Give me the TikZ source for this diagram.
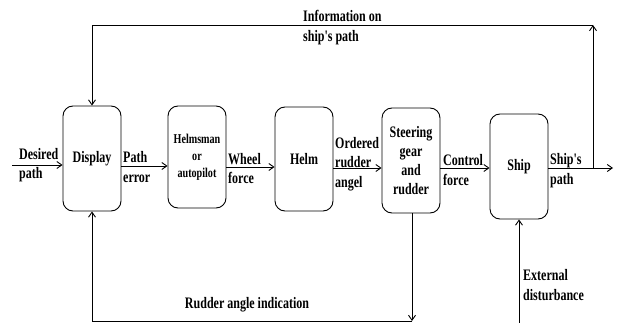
\documentclass[tikz,border=0pt]{standalone}
\usepackage{fontspec}
\setmainfont{Liberation Serif}[FakeStretch=0.75, Ligatures=TeXOff]
\usetikzlibrary{arrows.meta}
\begin{document}
\begin{tikzpicture}[x=1pt,y=-1pt,
  box/.style={draw, line width=0.9pt, rounded corners=10pt, minimum width=58pt, align=center, inner sep=0pt,
    font=\fontsize{16}{19}\selectfont\bfseries},
  lbl/.style={inner sep=0pt, align=left, anchor=west, font=\fontsize{16}{19.5}\selectfont\bfseries},
  arr/.style={line width=0.9pt, -{Straight Barb[length=5pt,width=7pt]}},
  ln/.style={line width=0.9pt}]
\useasboundingbox (0,0) rectangle (617,323);
% boxes
\node[box, minimum height=105pt] (disp) at (92,158.5) {Display};
\node[box, minimum height=102pt, font=\fontsize{13.5}{17}\selectfont\bfseries] (hm) at (197,157) {Helmsman\\or\\autopilot};
\node[box, minimum height=104pt] (helm) at (304,159) {Helm};
\node[box, minimum height=105pt] (steer) at (411,160.5) {Steering\\gear\\and\\rudder};
\node[box, minimum height=105pt] (ship) at (519,166.5) {Ship};
% coordinates
\coordinate (dstart) at (12,165);
\coordinate (pend) at (613,168);
\coordinate (jr) at (593,168);
\coordinate (tr) at (593,25);
\coordinate (tl) at (92,25);
\coordinate (bl) at (92,321);
\coordinate (br) at (412,321);
\coordinate (ext) at (519,323);
% main line
\draw[arr] (dstart) -- (dstart -| disp.west);
\draw[arr] (disp.east |- 0,166) -- (hm.west |- 0,166);
\draw[arr] (hm.east |- 0,167) -- (helm.west |- 0,167);
\draw[arr] (helm.east |- 0,168) -- (steer.west |- 0,168);
\draw[arr] (steer.east |- 0,168) -- (ship.west |- 0,168);
\draw[arr] (ship.east |- 0,168) -- (pend);
% top feedback
\draw[arr] (jr) -- (tr);
\draw[arr] (tr) -- (tl) -- (disp.north);
% bottom feedback
\draw[arr] (steer.south -| br) -- (br);
\draw[arr] (br) -- (bl) -- (disp.south);
% disturbance
\draw[arr] (ext) -- (ship.south);
% labels
\node[lbl] (l1) at (19,165) {Desired\\path};
\node[lbl] (l2) at (123,167) {Path\\error};
\node[lbl] (l3) at (228,168.5) {Wheel\\force};
\node[lbl] (l4) at (335,164) {Ordered\\rudder\\angel};
\node[lbl] (l5) at (443,170) {Control\\force};
\node[lbl] (l6) at (550,170.5) {Ship's\\path};
\node[lbl] (l7) at (523,285) {External\\disturbance};
\node[lbl] (l8) at (303,27.5) {Information on\\ship's path};
\node[lbl, anchor=center] (l9) at (247,305) {Rudder angle indication};
\end{tikzpicture}
\end{document}
